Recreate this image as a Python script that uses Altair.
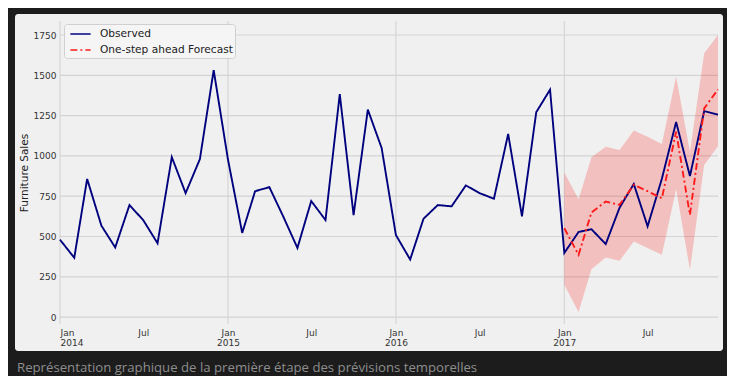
import altair as alt
import pandas as pd

# ---------------- data ----------------
months = pd.date_range("2014-01-01", "2017-12-01", freq="MS").strftime("%Y-%m-%d").tolist()

observed = [480, 368, 857, 567, 432, 695, 601, 458, 992, 769, 980, 1532,
            978, 522, 781, 806, 625, 429, 720, 602, 1383, 633, 1287, 1049,
            509, 357, 610, 695, 687, 817, 769, 734, 1136, 625, 1271, 1411,
            398, 528, 545, 453, 678, 826, 563, 858, 1210, 875, 1278, 1256]

forecast_months = months[36:]
forecast = [551, 386, 649, 717, 696, 820, 781, 737, 1150, 634, 1295, 1413]
ci_lower = [200, 31, 297, 370, 349, 469, 428, 386, 793, 293, 944, 1060]
ci_upper = [897, 731, 992, 1057, 1037, 1157, 1119, 1074, 1492, 1025, 1637, 1750]

series_names = ["Observed", "One-step ahead Forecast"]
series_colors = ["#00007f", "#ff1a1a"]
series_dash = [[1, 0], [7, 3, 2, 3]]

y_ticks = [0, 250, 500, 750, 1000, 1250, 1500, 1750]
year_starts = ["2014-01-01", "2015-01-01", "2016-01-01", "2017-01-01"]
x_tick_years = [2014, 2015, 2016, 2017]
x_tick_months = [1, 7]

caption = "Représentation graphique de la première étape des prévisions temporelles"

# ---------------- tables ----------------
lines_df = pd.concat([
    pd.DataFrame({"date": months, "value": observed, "series": series_names[0]}),
    pd.DataFrame({"date": forecast_months, "value": forecast, "series": series_names[1]}),
])
band_df = pd.DataFrame({"date": forecast_months, "lower": ci_lower, "upper": ci_upper})
hgrid_df = pd.DataFrame({"value": y_ticks})
vgrid_df = pd.DataFrame({"date": year_starts})
one_df = pd.DataFrame({"k": [0]})

FONT = "DejaVu Sans"

x_scale = alt.Scale(type="utc", nice=False,
                    domain=[alt.DateTime(year=2014, month=1, date=1, utc=True),
                            alt.DateTime(year=2017, month=12, date=1, utc=True)])
y_scale = alt.Scale(domain=[-43, 1837], nice=False, zero=False)

x_values = [alt.DateTime(year=y, month=m, date=1, utc=True)
            for y in x_tick_years for m in x_tick_months]

x_axis = alt.Axis(values=x_values, title=None, grid=False, domain=False, ticks=False, zindex=1,
                  labelExpr="utcFormat(datum.value, '%m') == '01' ? [utcFormat(datum.value, '%b'), utcFormat(datum.value, '%Y')] : utcFormat(datum.value, '%b')",
                  labelFont=FONT, labelFontSize=9, labelColor="#333333",
                  labelPadding=4, labelLineHeight=10.5, labelBaseline="top",
                  labelOverlap=False)
y_axis = alt.Axis(values=y_ticks, format="d", title="Furniture Sales", grid=False, domain=False,
                  ticks=False, zindex=1,
                  labelFont=FONT, labelFontSize=9, labelColor="#333333", labelPadding=4,
                  titleFont=FONT, titleFontSize=10.5, titleFontWeight="normal",
                  titleColor="#222222", titleX=-36, titleY=151.5, titleAngle=-90,
                  titleBaseline="middle", titleAlign="center")

X = alt.X("date:T", scale=x_scale, axis=x_axis)

bg = alt.Chart(one_df).mark_rect(color="#f0f0f0", cornerRadius=3).encode(
    x=alt.value(-45), x2=alt.value(663), y=alt.value(-7), y2=alt.value(330))

hgrid = alt.Chart(hgrid_df).mark_rule(color="#d3d3d3", strokeWidth=1.2).encode(
    y=alt.Y("value:Q", scale=y_scale, axis=y_axis))

vgrid = alt.Chart(vgrid_df).mark_rule(color="#d6d6d6", strokeWidth=1.2).encode(x=X)

band = alt.Chart(band_df).mark_area(color="#ff0000", opacity=0.2).encode(
    x=X,
    y=alt.Y("lower:Q", scale=y_scale, axis=y_axis),
    y2="upper:Q")

legend_kw = dict(title=None, orient="none", legendX=4, legendY=3, direction="vertical",
                 fillColor="#f5f5f5", strokeColor="#d0d0d0", cornerRadius=3, padding=2,
                 labelFont=FONT, labelFontSize=10.6, labelColor="#222222",
                 symbolType="M-1.45,0H1.45", symbolSize=196, symbolStrokeWidth=1.7,
                 symbolOffset=6.5, rowPadding=2, labelOffset=11.5)

lines = alt.Chart(lines_df).mark_line(strokeWidth=1.9).encode(
    x=X,
    y=alt.Y("value:Q", scale=y_scale, axis=y_axis),
    color=alt.Color("series:N", scale=alt.Scale(domain=series_names, range=series_colors),
                    legend=alt.Legend(**legend_kw)),
    strokeDash=alt.StrokeDash("series:N", scale=alt.Scale(domain=series_names, range=series_dash),
                              legend=alt.Legend(**legend_kw)),
)

cap = alt.Chart(one_df).mark_text(align="left", baseline="alphabetic", font="Open Sans",
                                  fontSize=13.2, color="#8e8e8e").encode(
    x=alt.value(-43), y=alt.value(351), text=alt.value(caption))

chart = alt.layer(bg, hgrid, vgrid, band, lines, cap).properties(
    width=658, height=303,
    autosize=alt.AutoSizeParams(type="none"),
    padding={"left": 52, "top": 13, "right": 9, "bottom": 52},
    background="#1c1c1c",
).configure_view(stroke=None)

chart.save("out.html", embed_options={"renderer": "svg", "actions": False})
